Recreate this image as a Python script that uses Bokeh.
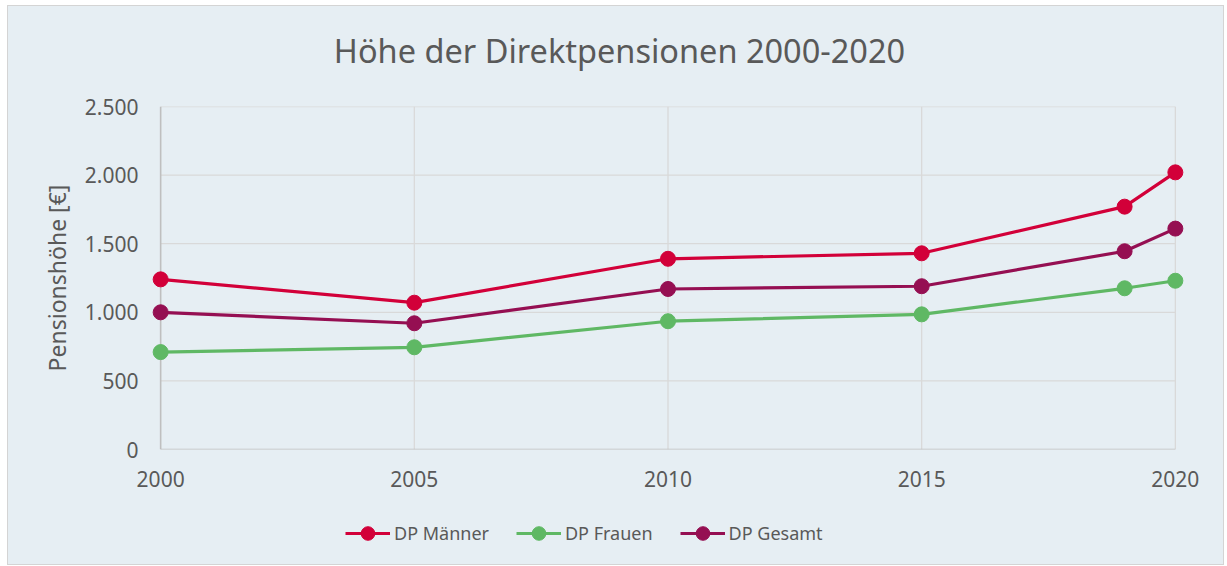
from bokeh.plotting import figure
from bokeh.layouts import column
from bokeh.models import Range1d, FixedTicker, CustomJSTickFormatter, Legend, LegendItem, Label
from bokeh.embed import file_html
from bokeh.resources import INLINE

# ---- data ----
years = [2000, 2005, 2010, 2015, 2019, 2020]
dp_maenner = [1240, 1070, 1390, 1430, 1770, 2020]
dp_frauen = [710, 745, 935, 985, 1175, 1230]
dp_gesamt = [1000, 920, 1170, 1190, 1445, 1610]
series_names = ["DP Männer", "DP Frauen", "DP Gesamt"]
series_colors = ["#D20039", "#5FB864", "#950F52"]
x_ticks = [2000, 2005, 2010, 2015, 2020]
y_ticks = [0, 500, 1000, 1500, 2000, 2500]
title_text = "Höhe der Direktpensionen 2000-2020"
y_label = "Pensionshöhe [€]"

BG = "#E6EEF3"
TXT = "#595959"
GRID = "#D9D9D9"
AXIS = "#BFBFBF"
FONT = "Noto Sans"

FW, FH = 1035, 343
ML, MR = 142, 38

# ---- title strip (frame aligned with the main frame) ----
TH = 88
tf = figure(frame_width=FW, frame_height=TH, x_range=Range1d(0, 1), y_range=Range1d(0, 1),
            output_backend="svg", toolbar_location=None,
            x_axis_location=None, y_axis_location=None,
            min_border_left=ML, min_border_right=MR, min_border_top=0, min_border_bottom=0)
tf.background_fill_color = BG
tf.border_fill_color = BG
tf.outline_line_color = None
tf.xgrid.visible = False
tf.ygrid.visible = False
tf.add_layout(Label(x=469, y=TH - 44, x_units="screen", y_units="screen",
                    text=title_text, text_align="center", text_baseline="middle",
                    text_font=FONT, text_font_size="32.5px", text_color=TXT))

# ---- main chart ----
pad = 0.2
p = figure(frame_width=FW, frame_height=FH,
           x_range=Range1d(x_ticks[0] - pad, x_ticks[-1] + pad),
           y_range=Range1d(y_ticks[0], y_ticks[-1]),
           output_backend="svg", toolbar_location=None,
           min_border_left=ML, min_border_right=MR,
           min_border_top=12, min_border_bottom=55)
p.background_fill_color = BG
p.border_fill_color = BG
p.outline_line_color = None
p.xgrid.visible = False
p.ygrid.visible = False

# gridlines (drawn from tick lists so they stop at the data extent)
hy = y_ticks[1:]
p.segment(x0=[x_ticks[0]] * len(hy), y0=hy, x1=[x_ticks[-1]] * len(hy), y1=hy,
          line_color=GRID, line_width=1.3, level="underlay")
vx = x_ticks[1:]
p.segment(x0=vx, y0=[y_ticks[0]] * len(vx), x1=vx, y1=[y_ticks[-1]] * len(vx),
          line_color=GRID, line_width=1.3, level="underlay")
# axis lines
p.segment(x0=[x_ticks[0], x_ticks[0]], y0=[y_ticks[0], y_ticks[0]],
          x1=[x_ticks[0], x_ticks[-1]], y1=[y_ticks[-1], y_ticks[0]],
          line_color=AXIS, line_width=1.6, level="underlay")

# axes
for ax in (p.xaxis[0], p.yaxis[0]):
    ax.axis_line_color = None
    ax.major_tick_line_color = None
    ax.minor_tick_line_color = None
    ax.major_tick_out = 0
    ax.major_tick_in = 0
    ax.major_label_text_font = FONT
    ax.major_label_text_font_size = "21px"
    ax.major_label_text_color = TXT
p.xaxis.ticker = FixedTicker(ticks=x_ticks)
p.yaxis.ticker = FixedTicker(ticks=y_ticks)
p.xaxis.major_label_standoff = 21
p.yaxis.major_label_standoff = 12
p.yaxis.formatter = CustomJSTickFormatter(
    code=r"return tick.toString().replace(/\B(?=(\d{3})+(?!\d))/g, '.');")
p.yaxis.axis_label = y_label
p.yaxis.axis_label_text_font = FONT
p.yaxis.axis_label_text_font_size = "23px"
p.yaxis.axis_label_text_font_style = "normal"
p.yaxis.axis_label_text_color = TXT
p.yaxis.axis_label_standoff = 9

# ---- legend strip: a small figure aligned with the main frame ----
LH = 60
lf = figure(frame_width=FW, frame_height=LH, x_range=Range1d(0, 1), y_range=Range1d(0, 1),
            output_backend="svg", toolbar_location=None,
            x_axis_location=None, y_axis_location=None,
            min_border_left=ML, min_border_right=MR, min_border_top=0, min_border_bottom=0)
lf.background_fill_color = BG
lf.border_fill_color = BG
lf.outline_line_color = None
lf.xgrid.visible = False
lf.ygrid.visible = False

# series
items = []
for name, vals, col in zip(series_names, [dp_maenner, dp_frauen, dp_gesamt], series_colors):
    p.line(years, vals, line_color=col, line_width=3.2)
    p.scatter(years, vals, size=15, fill_color=col, line_color=col)
    # same series in the legend strip (outside its visible range) to drive the legend glyphs
    l1 = lf.line(years, vals, line_color=col, line_width=3.2)
    l2 = lf.scatter(years, vals, size=15, fill_color=col, line_color=col)
    items.append(LegendItem(label=name, renderers=[l1, l2]))

legend = Legend(items=items, orientation="horizontal", location=(195, 14))
legend.background_fill_alpha = 0
legend.border_line_color = None
legend.label_text_font = FONT
legend.label_text_font_size = "18px"
legend.label_text_color = TXT
legend.glyph_width = 45
legend.glyph_height = 34
legend.label_standoff = 4
legend.spacing = 27
legend.padding = 0
legend.margin = 0
lf.add_layout(legend)

layout = column(tf, p, lf, spacing=0,
                styles={"border": "1px solid #D4D4D4", "margin-left": "7px",
                        "margin-top": "5px", "background-color": BG})

open("out.html", "w").write(file_html(layout, INLINE))
